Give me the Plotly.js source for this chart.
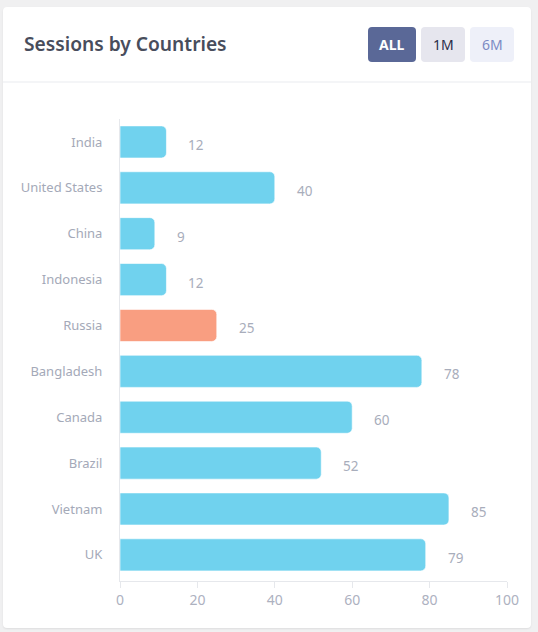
<!DOCTYPE html>
<html>
<head>
<meta charset="utf-8">
<script src="https://cdn.plot.ly/plotly-3.0.1.min.js"></script>
<style>
  html, body { margin: 0; padding: 0; background: #f0f0f1; width: 538px; height: 632px; overflow: hidden; }
  #card { position: absolute; left: 3px; top: 7px; width: 528px; height: 621px; background: #fff; border-radius: 4px; box-shadow: 0 1px 2px rgba(0,0,0,0.08); overflow: hidden; }
</style>
</head>
<body>
<div id="card"></div>
<script>
const countries = ["India", "United States", "China", "Indonesia", "Russia", "Bangladesh", "Canada", "Brazil", "Vietnam", "UK"];
const sessions = [12, 40, 9, 12, 25, 78, 60, 52, 85, 79];
const barColors = ["#70d2ee", "#70d2ee", "#70d2ee", "#70d2ee", "#f99e81", "#70d2ee", "#70d2ee", "#70d2ee", "#70d2ee", "#70d2ee"];
const xTicks = [0, 20, 40, 60, 80, 100];
const titleText = "Sessions by Countries";
const buttons = ["ALL", "1M", "6M"];

const CW = 528, CH = 621;
const M = {l: 117, r: 24, t: 112, b: 47};
const W = CW - M.l - M.r, H = CH - M.t - M.b;
const px = x => (x - M.l) / W;
const py = y => 1 - (y - M.t) / H;

function rrect(x0, y0, x1, y1, r) {
  const a = px(x0), b = px(x1), c = py(y0), d = py(y1);
  const rx = r / W, ry = r / H;
  return `M${a+rx},${c} L${b-rx},${c} Q${b},${c} ${b},${c-ry} L${b},${d+ry} Q${b},${d} ${b-rx},${d} L${a+rx},${d} Q${a},${d} ${a},${d+ry} L${a},${c-ry} Q${a},${c} ${a+rx},${c} Z`;
}

const btnBoxes = [[365, 20, 413, 55], [418, 20, 462, 55], [467, 20, 511, 55]];
const btnFill = ["#5a6897", "#e6e6ee", "#eef0f9"];
const btnText = ["#ffffff", "#2a2c48", "#7b8ac4"];

const shapes = [
  {type: "line", xref: "paper", yref: "paper", x0: px(0), x1: px(CW), y0: py(75), y1: py(75), line: {color: "#e9ebef", width: 1}}
];
btnBoxes.forEach((b, i) => shapes.push({type: "path", xref: "paper", yref: "paper", path: rrect(b[0], b[1], b[2], b[3], 4), fillcolor: btnFill[i], line: {width: 0}}));

const annotations = [
  {xref: "paper", yref: "paper", x: px(19), y: py(37), xanchor: "left", yanchor: "middle", showarrow: false, text: titleText, font: {family: "Noto Sans, sans-serif", size: 19.2, weight: 600, color: "#484d5c"}}
];
btnBoxes.forEach((b, i) => annotations.push({xref: "paper", yref: "paper", x: px((b[0]+b[2])/2), y: py((b[1]+b[3])/2), xanchor: "center", yanchor: "middle", showarrow: false, text: buttons[i], font: {family: "Noto Sans, sans-serif", size: 14, weight: i === 0 ? 700 : 400, color: btnText[i]}}));
countries.forEach((c, i) => annotations.push({x: sessions[i], y: c, xref: "x", yref: "y", xanchor: "left", yanchor: "middle", xshift: 20, yshift: -3, showarrow: false, text: String(sessions[i]), font: {family: "Noto Sans, sans-serif", size: 13.5, color: "#a8adbb"}}));

const trace = {
  type: "bar", orientation: "h", x: sessions, y: countries,
  marker: {color: barColors, cornerradius: 5, line: {color: "rgba(255,255,255,0.6)", width: 1}},
  hoverinfo: "none"
};

const layout = {
  width: CW, height: CH,
  margin: M,
  paper_bgcolor: "rgba(0,0,0,0)", plot_bgcolor: "rgba(0,0,0,0)",
  showlegend: false,
  bargap: 0.3,
  font: {family: "Noto Sans, sans-serif"},
  xaxis: {range: [0, 100], tickvals: xTicks, showgrid: false, zeroline: false, showline: true, linecolor: "#e6e8ec", linewidth: 1,
          ticks: "outside", ticklen: 6, tickcolor: "#e6e8ec", tickfont: {size: 14, color: "#adb1bf"}, fixedrange: true},
  yaxis: {type: "category", range: [9.57, -0.5], showgrid: false, zeroline: false, showline: true, linecolor: "#e6e8ec", linewidth: 1,
          ticks: "outside", ticklen: 6, tickcolor: "rgba(0,0,0,0)", ticklabelstandoff: 8, tickfont: {size: 13, color: "#a4a9b8"}, fixedrange: true},
  shapes: shapes,
  annotations: annotations
};

Plotly.newPlot("card", [trace], layout, {displayModeBar: false, staticPlot: true});
</script>
</body>
</html>
